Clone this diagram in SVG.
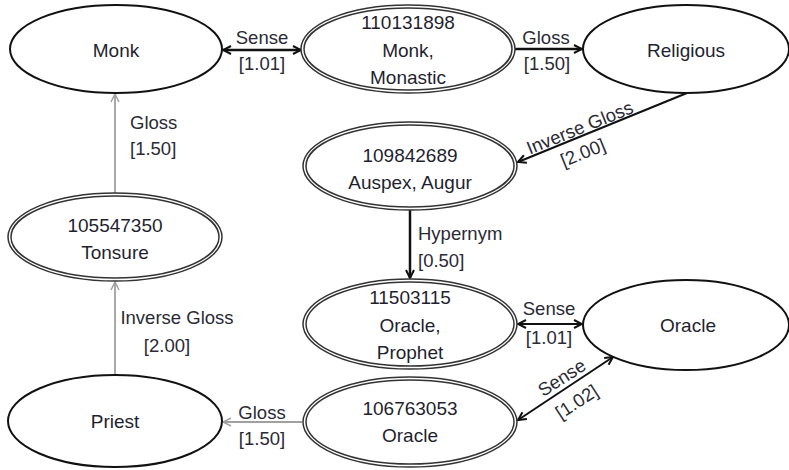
<svg xmlns="http://www.w3.org/2000/svg" width="789" height="470" viewBox="0 0 789 470">
<style>
  .bg { fill: #ffffff; }
  .single { fill: #ffffff; stroke: #111111; stroke-width: 2; }
  .dbl { fill: #ffffff; stroke: #333333; stroke-width: 1.5; }
  .nt { font-family: "Liberation Sans", Arial, sans-serif; font-size: 19px; fill: #1f1f2f; text-anchor: middle; }
  .lt { font-family: "Liberation Sans", Arial, sans-serif; font-size: 18.5px; fill: #2a2a35; }
  .mid { text-anchor: middle; }
  .dark { stroke: #111111; stroke-width: 2.5; fill: none; }
  .thin { stroke: #111111; stroke-width: 2; fill: none; }
  .gray { stroke: #a0a0a0; stroke-width: 1.8; fill: none; }
</style>
<defs>
  <marker id="ah" viewBox="0 0 10 10" refX="9" refY="5" markerWidth="10" markerHeight="10" markerUnits="userSpaceOnUse" orient="auto-start-reverse">
    <path d="M1,1 L9,5 L1,9" fill="none" stroke="#111111" stroke-width="2"/>
  </marker>
  <marker id="ag" viewBox="0 0 10 10" refX="9" refY="5" markerWidth="10" markerHeight="10" markerUnits="userSpaceOnUse" orient="auto-start-reverse">
    <path d="M1,1 L9,5 L1,9" fill="none" stroke="#a0a0a0" stroke-width="1.5"/>
  </marker>
</defs>
<rect class="bg" x="0" y="0" width="789" height="470"/>

<g id="connectors">
  <g id="e-monk-sense">
    <line class="dark" x1="223" y1="50" x2="301" y2="50" marker-start="url(#ah)" marker-end="url(#ah)"/>
    <text class="lt mid" x="262" y="44">Sense</text>
    <text class="lt mid" x="262" y="70">[1.01]</text>
  </g>
  <g id="e-gloss-religious">
    <line class="dark" x1="515" y1="49" x2="582" y2="49" marker-end="url(#ah)"/>
    <text class="lt mid" x="546" y="44">Gloss</text>
    <text class="lt mid" x="547" y="70">[1.50]</text>
  </g>
  <g id="e-invgloss-auspex">
    <line class="thin" x1="687" y1="93" x2="518" y2="162" marker-end="url(#ah)"/>
    <text class="lt mid" transform="translate(580,128) rotate(-22)" y="6">Inverse Gloss</text>
    <text class="lt mid" transform="translate(583,153) rotate(-22)" y="6">[2.00]</text>
  </g>
  <g id="e-hypernym">
    <line class="dark" x1="410" y1="210" x2="410" y2="278" marker-end="url(#ah)"/>
    <text class="lt" x="418" y="240">Hypernym</text>
    <text class="lt" x="418" y="267">[0.50]</text>
  </g>
  <g id="e-sense-oracle1">
    <line class="thin" x1="518" y1="324" x2="582" y2="324" marker-start="url(#ah)" marker-end="url(#ah)"/>
    <text class="lt mid" x="549" y="315">Sense</text>
    <text class="lt mid" x="549" y="344">[1.01]</text>
  </g>
  <g id="e-sense-oracle2">
    <line class="thin" x1="518" y1="420" x2="613" y2="357" marker-start="url(#ah)" marker-end="url(#ah)"/>
    <text class="lt mid" transform="translate(562,378) rotate(-33)" y="6">Sense</text>
    <text class="lt mid" transform="translate(577,402) rotate(-33)" y="6">[1.02]</text>
  </g>
  <g id="e-gloss-priest">
    <line class="gray" x1="302" y1="422" x2="223" y2="422" marker-end="url(#ag)"/>
    <text class="lt mid" x="262" y="419">Gloss</text>
    <text class="lt mid" x="262" y="445">[1.50]</text>
  </g>
  <g id="e-invgloss-tonsure">
    <line class="gray" x1="115" y1="375" x2="115" y2="282" marker-end="url(#ag)"/>
    <text class="lt mid" x="177" y="324">Inverse Gloss</text>
    <text class="lt mid" x="167" y="352">[2.00]</text>
  </g>
  <g id="e-gloss-monk">
    <line class="gray" x1="115" y1="193" x2="115" y2="94" marker-end="url(#ag)"/>
    <text class="lt" x="130" y="129">Gloss</text>
    <text class="lt" x="130" y="155">[1.50]</text>
  </g>
</g>

<g id="n-monk">
  <ellipse class="single" cx="116" cy="49" rx="106" ry="44"/>
  <text class="nt" x="116" y="57">Monk</text>
</g>
<g id="n-110131898">
  <ellipse class="dbl" cx="408" cy="49" rx="107" ry="44"/>
  <ellipse class="dbl" cx="408" cy="49" rx="104" ry="41"/>
  <text class="nt" x="408" y="29">110131898</text>
  <text class="nt" x="408" y="57">Monk,</text>
  <text class="nt" x="408" y="84">Monastic</text>
</g>
<g id="n-religious">
  <ellipse class="single" cx="686" cy="49" rx="103" ry="44"/>
  <text class="nt" x="686" y="57">Religious</text>
</g>
<g id="n-109842689">
  <ellipse class="dbl" cx="410" cy="166" rx="107" ry="44"/>
  <ellipse class="dbl" cx="410" cy="166" rx="104" ry="41"/>
  <text class="nt" x="410" y="162">109842689</text>
  <text class="nt" x="410" y="189">Auspex, Augur</text>
</g>
<g id="n-105547350">
  <ellipse class="dbl" cx="115" cy="237" rx="107" ry="44"/>
  <ellipse class="dbl" cx="115" cy="237" rx="104" ry="41"/>
  <text class="nt" x="115" y="232">105547350</text>
  <text class="nt" x="115" y="259">Tonsure</text>
</g>
<g id="n-11503115">
  <ellipse class="dbl" cx="410" cy="324" rx="107" ry="45"/>
  <ellipse class="dbl" cx="410" cy="324" rx="104" ry="42"/>
  <text class="nt" x="410" y="304">11503115</text>
  <text class="nt" x="410" y="332">Oracle,</text>
  <text class="nt" x="410" y="359">Prophet</text>
</g>
<g id="n-oracle">
  <ellipse class="single" cx="686" cy="325" rx="103" ry="45"/>
  <text class="nt" x="688" y="332">Oracle</text>
</g>
<g id="n-106763053">
  <ellipse class="dbl" cx="410" cy="422" rx="107" ry="45"/>
  <ellipse class="dbl" cx="410" cy="422" rx="104" ry="42"/>
  <text class="nt" x="410" y="415">106763053</text>
  <text class="nt" x="410" y="442">Oracle</text>
</g>
<g id="n-priest">
  <ellipse class="single" cx="115" cy="421" rx="107" ry="46"/>
  <text class="nt" x="115" y="428">Priest</text>
</g>
</svg>
